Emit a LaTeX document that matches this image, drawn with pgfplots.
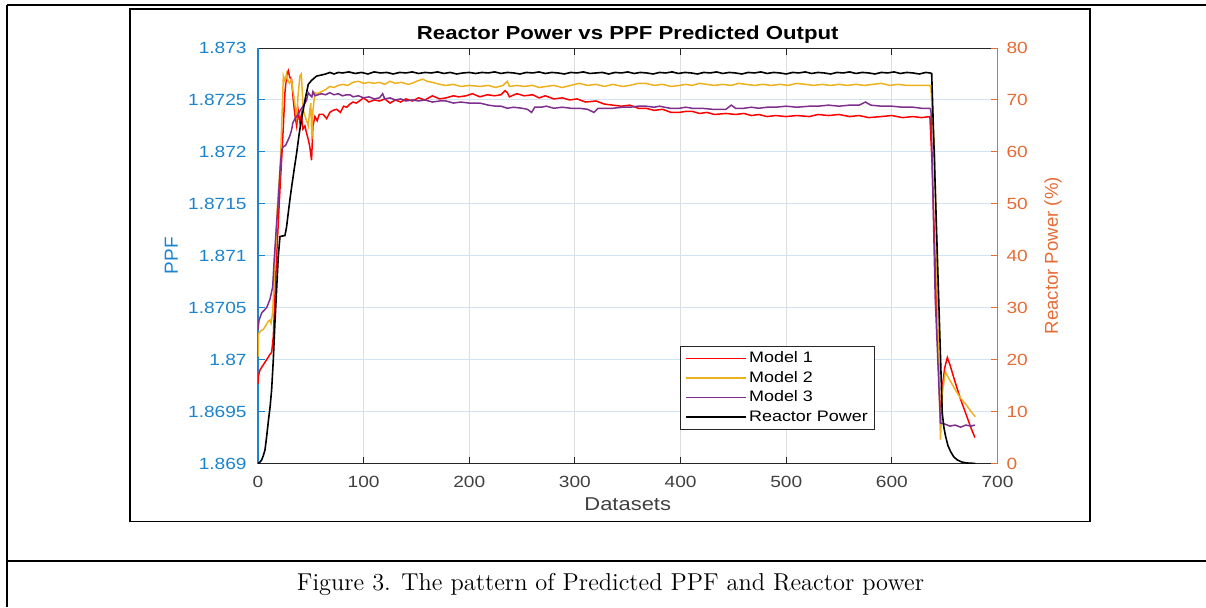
\documentclass[border=0pt]{standalone}
\usepackage{pgfplots}
\pgfplotsset{compat=1.18}
\usepackage{fontspec}
\newfontfamily\af[FakeStretch=1.18]{Liberation Sans}
\newfontfamily\ar{Liberation Sans}
\definecolor{mblue}{RGB}{28,132,206}
\definecolor{morange}{RGB}{228,108,55}
\definecolor{mgrid}{RGB}{222,222,222}
\definecolor{mygrid}{RGB}{210,228,243}
\definecolor{mdark}{RGB}{38,38,38}
\definecolor{mtick}{RGB}{64,64,64}
\definecolor{c1}{RGB}{255,0,0}
\definecolor{c2}{RGB}{237,177,32}
\definecolor{c3}{RGB}{126,47,142}
\begin{document}
\begin{tikzpicture}
\path[use as bounding box] (0,0) rectangle (603pt,303.5pt);
\draw[line width=1.1pt] (3.5pt,301pt) -- (603pt,301pt);
\draw[line width=1.1pt] (3.5pt,301pt) -- (3.5pt,0pt);
\draw[line width=1.1pt] (3.5pt,23pt) -- (603pt,23pt);
\draw[line width=0.8pt] (65pt,42.75pt) rectangle (545pt,299pt);
\node[anchor=base, font=\fontsize{12.2}{14}\selectfont, inner sep=0pt] at (305.25pt,8.5pt) {Figure 3. The pattern of Predicted PPF and Reactor power};

\begin{axis}[
  at={(129pt,71.75pt)}, anchor=south west,
  scale only axis, width=369.75pt, height=207.75pt,
  xmin=0, xmax=700, ymin=1.869, ymax=1.873,
  axis x line*=box, axis y line*=left,
  xtick={0,100,...,700},
  ytick={1.869,1.8695,1.87,1.8705,1.871,1.8715,1.872,1.8725,1.873},
  yticklabels={1.869,1.8695,1.87,1.8705,1.871,1.8715,1.872,1.8725,1.873},
  scaled y ticks=false,
  tick align=inside, major tick length=3.3pt,
  x axis line style={mdark, line width=0.5pt},
  y axis line style={mblue, line width=0.6pt},
  x tick style={mdark, line width=0.5pt}, y tick style={mblue, line width=0.5pt},
  xmajorgrids, ymajorgrids,
  x grid style={mgrid, line width=0.5pt}, y grid style={mygrid, line width=0.5pt},
  tick label style={font=\af\fontsize{8.1}{9}\selectfont},
  /pgf/number format/assume math mode=true,
  xticklabel style={mtick, anchor=base, inner sep=0pt, yshift=-11.75pt},
  yticklabel style={mblue, anchor=east, inner sep=0pt, xshift=-5.5pt},
  every axis title shift=0pt,
  title={Reactor Power vs PPF Predicted Output},
  title style={font=\af\bfseries\fontsize{9.4}{11}\selectfont, at={(axis description cs:0.5,1.0205)}, anchor=base, inner sep=0pt},
  xlabel={Datasets},
  xlabel style={font=\af\fontsize{9.3}{11}\selectfont, mtick, at={(axis description cs:0.5,-0.1143)}, anchor=base, inner sep=0pt},
  ylabel={PPF},
  ylabel style={font=\ar\fontsize{9.5}{11}\selectfont, mblue, at={(axis description cs:-0.1082,0.5)}, anchor=base, inner sep=0pt},
]
% Model 1
\addplot[c1, line width=0.75pt, no markers] table {
0 1.86977
0.5 1.86985
1.9 1.86990
5 1.86995
8.2 1.87000
11.3 1.87005
12.9 1.87007
14.5 1.87022
16 1.87060
17.6 1.87099
19.2 1.87132
20.8 1.87164
22.4 1.87193
24 1.87225
25.5 1.87257
27 1.87273
28.7 1.87278
30 1.87272
31.8 1.87270
33.4 1.87250
35 1.87235
36.6 1.87225
38 1.87240
39.7 1.87228
41 1.87236
42.5 1.87222
44.4 1.87225
46 1.87218
47.6 1.87212
49 1.87205
50.7 1.87192
52 1.87225
53.9 1.87234
56 1.87230
58 1.87236
61.7 1.87236
65 1.87232
68 1.87238
71 1.87240
74.4 1.87241
78 1.87238
81 1.87244
84 1.87243
87 1.87246
90 1.87248
93 1.87247
96 1.87249
100 1.87252
105 1.87248
110 1.87250
115 1.87249
120 1.87251
125 1.87247
130 1.87250
135 1.87248
140 1.87251
146 1.87249
152 1.87252
158 1.87250
165 1.87254
172 1.87251
178 1.87252
185 1.87254
190 1.87253
197 1.87254
203 1.87256
210 1.87253
217 1.87255
224 1.87254
230 1.87255
234 1.87259
236 1.87257
238 1.87253
245 1.87256
252 1.87254
260 1.87255
266 1.87252
272 1.87254
280 1.87251
288 1.87252
295 1.87250
302 1.87251
310 1.87248
320 1.87249
328 1.87246
336 1.87245
344 1.87244
352 1.87245
360 1.87242
367 1.87242
375 1.87240
383 1.87241
391 1.87238
399 1.87238
405 1.87239
411 1.87239
418 1.87237
425 1.87238
432 1.87236
443 1.87237
452 1.87236
460 1.87237
467 1.87235
474 1.87236
482 1.87234
490 1.87235
500 1.87234
510 1.87235
522 1.87234
530 1.87236
540 1.87235
550 1.87236
560 1.87234
569 1.87235
578 1.87233
590 1.87234
600 1.87235
610 1.87233
620 1.87234
628 1.87233
636 1.87234
638 1.87190
642 1.87060
646 1.86939
648 1.86975
650 1.86992
652.5 1.87002
655 1.86995
660 1.86978
665 1.86962
670 1.86948
675 1.86934
678.6 1.86925
};
% Model 2
\addplot[c2, line width=0.75pt, no markers] table {
0 1.87003
0.5 1.87025
3 1.87028
5 1.87029
7.5 1.87033
9.8 1.87037
11.3 1.87038
12.3 1.87035
13.9 1.87045
15.1 1.87074
17 1.87115
18.3 1.87147
19.5 1.87165
21 1.87185
22.4 1.87225
24 1.87273
25.5 1.87268
27 1.87275
28.5 1.87268
30 1.87266
31.5 1.87270
33.4 1.87257
35 1.87245
36.6 1.87234
38 1.87255
39.7 1.87273
41 1.87275
42.8 1.87241
44 1.87236
46 1.87230
47.6 1.87225
49 1.87240
50 1.87247
51 1.87212
52 1.87240
53.9 1.87257
56 1.87256
60 1.87258
64 1.87260
68 1.87263
72 1.87262
76 1.87264
80 1.87265
85 1.87264
90 1.87267
95 1.87268
100 1.87266
105 1.87267
110 1.87266
115 1.87267
120 1.87265
125 1.87268
130 1.87266
136 1.87267
142 1.87265
146 1.87266
150 1.87268
156 1.87270
160 1.87268
165 1.87267
172 1.87265
178 1.87264
185 1.87265
192 1.87263
200 1.87264
210 1.87263
218 1.87264
225 1.87262
232 1.87264
236 1.87268
238 1.87263
245 1.87264
252 1.87263
260 1.87264
266 1.87262
273 1.87263
280 1.87264
288 1.87262
296 1.87264
304 1.87266
312 1.87264
320 1.87265
328 1.87263
336 1.87265
345 1.87263
352 1.87264
360 1.87266
367 1.87266
375 1.87264
383 1.87265
391 1.87263
399 1.87264
405 1.87265
411 1.87264
418 1.87266
425 1.87265
432 1.87264
440 1.87265
448 1.87264
455 1.87266
462 1.87265
470 1.87264
478 1.87265
486 1.87264
494 1.87265
502 1.87264
510 1.87266
518 1.87265
526 1.87264
534 1.87265
542 1.87264
550 1.87265
558 1.87264
566 1.87265
574 1.87264
582 1.87265
590 1.87266
598 1.87264
606 1.87265
614 1.87264
622 1.87264
630 1.87264
636 1.87264
637 1.87262
639 1.87225
640.5 1.87200
643 1.87060
646 1.86923
648 1.86970
650.7 1.86988
655 1.86980
660 1.86971
665 1.86963
670 1.86957
675 1.86950
679 1.86945
};
% Model 3
\addplot[c3, line width=0.75pt, no markers] table {
0 1.87029
1 1.87038
3.5 1.87045
8.2 1.87050
11.3 1.87058
13.9 1.87070
15.1 1.87093
17 1.87122
19.2 1.87153
21 1.87185
22.4 1.87202
24 1.87205
26 1.87206
28.7 1.87212
30 1.87215
31.8 1.87221
33 1.87228
35 1.87232
36.5 1.87234
38 1.87236
40 1.87240
42.7 1.87244
44 1.87246
46 1.87250
47.6 1.87257
49 1.87255
51 1.87253
52 1.87258
54 1.87254
56.7 1.87255
60 1.87256
64 1.87255
68 1.87257
72 1.87255
76 1.87256
80 1.87254
84 1.87255
87 1.87255
90 1.87253
95 1.87254
100 1.87252
105 1.87253
110 1.87251
115 1.87252
118 1.87256
120 1.87251
125 1.87252
130 1.87250
135 1.87251
140 1.87249
146 1.87250
152 1.87249
158 1.87250
165 1.87248
172 1.87249
178 1.87249
185 1.87247
192 1.87248
200 1.87247
210 1.87247
218 1.87245
225 1.87244
230 1.87244
236 1.87242
242 1.87243
250 1.87242
255 1.87241
259 1.87238
262 1.87243
268 1.87243
273 1.87244
280 1.87242
288 1.87243
296 1.87242
304 1.87242
312 1.87241
318 1.87238
322 1.87242
330 1.87242
336 1.87242
345 1.87243
352 1.87243
360 1.87244
367 1.87244
375 1.87243
380 1.87244
390 1.87242
399 1.87242
405 1.87243
411 1.87242
420 1.87242
430 1.87241
437 1.87241
443 1.87241
448 1.87245
452 1.87242
460 1.87242
467 1.87243
474 1.87242
482 1.87243
490 1.87243
500 1.87244
510 1.87243
522 1.87244
530 1.87244
540 1.87245
550 1.87244
560 1.87245
569 1.87245
575 1.87248
580 1.87245
590 1.87244
600 1.87244
610 1.87243
620 1.87243
628 1.87242
636 1.87242
637 1.87240
638 1.87200
641 1.87060
646 1.86939
650 1.86938
655 1.86936
660 1.86937
665 1.86935
670 1.86937
675 1.86936
678.6 1.86937
};
\end{axis}

\begin{axis}[
  at={(129pt,71.75pt)}, anchor=south west,
  scale only axis, width=369.75pt, height=207.75pt,
  xmin=0, xmax=700, ymin=0, ymax=80,
  axis x line=none, axis y line*=right,
  ytick={0,10,...,80},
  tick align=inside, major tick length=3.3pt,
  y axis line style={morange, line width=0.6pt},
  y tick style={morange, line width=0.5pt},
  tick label style={font=\af\fontsize{8.1}{9}\selectfont},
  /pgf/number format/assume math mode=true,
  yticklabel style={morange, anchor=west, inner sep=0pt, xshift=4.3pt},
  ylabel={Reactor Power (\%)},
  ylabel style={font=\ar\fontsize{9.3}{11}\selectfont, morange, at={(axis description cs:1.0818,0.5)}, anchor=base, inner sep=0pt},
  legend style={at={(axis description cs:0.5707,0.2828)}, anchor=north west,
    draw=mdark, line width=0.5pt, fill=white, inner xsep=2.5pt, inner ysep=1.5pt,
    row sep=0.65pt, font=\af\fontsize{7.6}{8.5}\selectfont,
    nodes={inner sep=1pt, text height=5.6pt, text depth=1.5pt}},
  legend cell align=left,
  legend image code/.code={\draw[#1] (0pt,0pt) -- (30pt,0pt);},
]
\addlegendimage{c1, line width=0.75pt}
\addlegendentry{Model 1}
\addlegendimage{c2, line width=0.75pt}
\addlegendentry{Model 2}
\addlegendimage{c3, line width=0.75pt}
\addlegendentry{Model 3}
\addplot[black, line width=0.8pt, no markers] table {
0 0
2 0.3
3.5 0.7
5 1.5
6.6 2.6
8.2 5.2
10 8.5
11.5 11
12.9 14.2
14.5 20
16 27
17.5 33
19.2 39.9
20.8 43.7
23 43.8
25.5 43.9
27 45.5
28.5 48
30.2 50.8
32 53.5
34.5 57
36.6 59.8
39 63.5
41 66
42.8 68.1
45 70.5
47.6 73.0
50 73.6
52 74.0
55.5 74.6
60 74.8
64 75.0
68 75.3
72 75.0
76 75.3
80 75.2
86 75.4
92 75.1
98 75.3
104 75.0
110 75.4
116 75.2
122 75.3
128 75.0
134 75.3
140 75.2
146 75.4
152 75.1
158 75.3
164 75.2
170 75.4
176 75.1
182 75.3
188 75.0
194 75.2
200 75.3
206 75.1
212 75.3
218 75.2
224 75.4
230 75.1
236 75.3
242 75.2
248 75.0
254 75.3
260 75.2
266 75.4
272 75.1
278 75.3
284 75.2
290 75.0
296 75.3
302 75.2
308 75.4
314 75.1
320 75.2
326 75.3
332 75.0
338 75.3
344 75.2
350 75.4
356 75.1
362 75.3
368 75.2
374 75.0
380 75.3
386 75.2
392 75.4
398 75.1
404 75.3
410 75.2
416 75.0
422 75.3
428 75.2
434 75.4
440 75.1
446 75.3
452 75.2
458 75.0
464 75.3
470 75.2
476 75.4
482 75.1
488 75.3
494 75.2
500 75.0
506 75.3
512 75.2
518 75.4
524 75.1
530 75.3
536 75.2
542 75.0
548 75.3
554 75.2
560 75.4
566 75.1
572 75.3
578 75.2
584 75.0
590 75.3
596 75.2
602 75.4
608 75.1
614 75.3
620 75.2
626 75.0
632 75.3
636 75.2
637.7 75.1
640 60.1
643 40.4
645.5 24.1
647.7 9.7
649.3 6.9
650.9 5.2
653 3.5
655.6 2.3
658.5 1.3
661.9 0.7
666 0.3
670 0.12
675 0.05
679 0.02
};
\addlegendentry{Reactor Power}
\end{axis}
\end{tikzpicture}
\end{document}
